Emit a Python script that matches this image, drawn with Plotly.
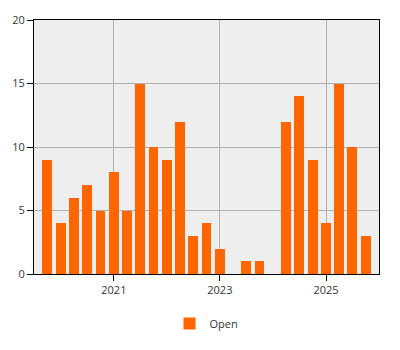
import plotly.graph_objects as go

quarters = ["2019-10-01", "2020-01-01", "2020-04-01", "2020-07-01", "2020-10-01",
            "2021-01-01", "2021-04-01", "2021-07-01", "2021-10-01",
            "2022-01-01", "2022-04-01", "2022-07-01", "2022-10-01",
            "2023-01-01", "2023-04-01", "2023-07-01", "2023-10-01",
            "2024-01-01", "2024-04-01", "2024-07-01", "2024-10-01",
            "2025-01-01", "2025-04-01", "2025-07-01", "2025-10-01"]
open_counts = [9, 4, 6, 7, 5,
               8, 5, 15, 10,
               9, 12, 3, 4,
               2, 0, 1, 1,
               0, 12, 14, 9,
               4, 15, 10, 3]
series_name = "Open"

DAY_MS = 86400000

fig = go.Figure()
fig.add_trace(go.Bar(
    x=quarters, y=open_counts, name=series_name,
    marker=dict(color="#ff6600", line=dict(width=0)),
    width=[68 * DAY_MS] * len(quarters),
    showlegend=True,
))

axis_font = dict(family="Open Sans, sans-serif", size=11, color="#333333")
fig.update_layout(
    width=400, height=350,
    margin=dict(l=31.5, r=20.7, t=15, b=74.7),
    paper_bgcolor="white",
    plot_bgcolor="#eeeeee",
    font=axis_font,
    showlegend=True,
    legend=dict(orientation="h", x=0.5, xanchor="center", y=-0.195, yanchor="middle",
                font=axis_font),
    xaxis=dict(
        type="date", range=["2019-07-01", "2026-01-01"],
        tick0="2021-01-01", dtick="M24", tickformat="%Y",
        showgrid=True, gridcolor="#b0b0b0", gridwidth=1,
        showline=True, linecolor="black", linewidth=1, mirror=True,
        ticks="outside", ticklen=6, tickcolor="black",
        tickfont=axis_font, zeroline=False,
    ),
    yaxis=dict(
        range=[0, 20], dtick=5, tick0=0,
        showgrid=True, gridcolor="#b0b0b0", gridwidth=1,
        showline=True, linecolor="black", linewidth=1, mirror=True,
        ticks="outside", ticklen=6, tickcolor="black",
        tickfont=axis_font, zeroline=False,
    ),
    bargap=0,
)

fig.write_html("out.html")
